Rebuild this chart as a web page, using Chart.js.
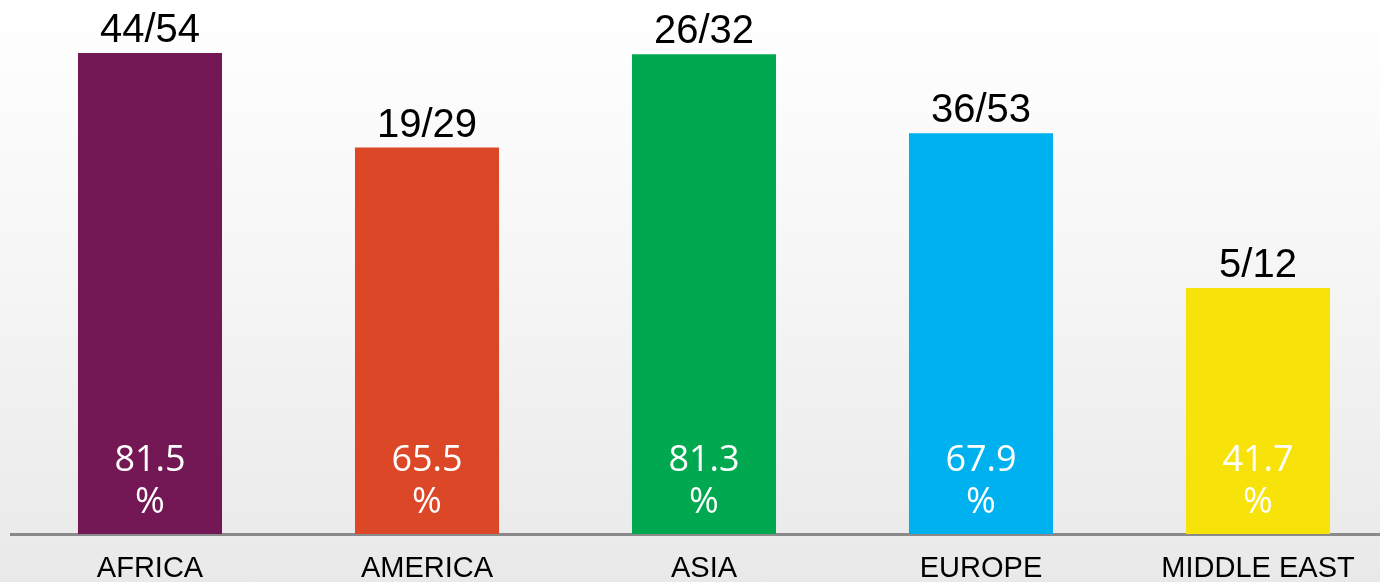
<!DOCTYPE html>
<html>
<head>
<meta charset="utf-8">
<script src="https://cdn.jsdelivr.net/npm/chart.js@4/dist/chart.umd.min.js"></script>
<style>
    html, body {
        margin: 0;
        padding: 0;
        width: 1380px;
        height: 582px;
        overflow: hidden;
        background: linear-gradient(to bottom, #ffffff 0%, #f6f6f6 45%, #e9e9e9 100%);
    }
    canvas { display: block; }
</style>
</head>
<body>
<canvas id="chartRegions" width="1400" height="582"></canvas>
<script>
const regions = ['AFRICA', 'AMERICA', 'ASIA', 'EUROPE', 'MIDDLE EAST'];
const percentages = [81.5, 65.5, 81.3, 67.9, 41.7];
const ratios = ['44/54', '19/29', '26/32', '36/53', '5/12'];
const barColors = ['#731755', '#db4727', '#00a84f', '#00b1ef', '#f7e30a'];

// draws the ratio above each bar and the percentage inside it
const barLabels = {
    id: 'barLabels',
    afterDatasetsDraw(chart) {
        const ctx = chart.ctx;
        const meta = chart.getDatasetMeta(0);
        const zero = chart.scales.y.getPixelForValue(0);
        ctx.save();
        ctx.textAlign = 'center';
        ctx.textBaseline = 'alphabetic';
        meta.data.forEach((bar, i) => {
            ctx.fillStyle = '#000000';
            ctx.font = '40px "Liberation Sans", Arial, sans-serif';
            ctx.fillText(ratios[i], bar.x, bar.y - 11);

            ctx.fillStyle = '#ffffff';
            ctx.font = '36px "Open Sans", sans-serif';
            ctx.fillText(String(percentages[i]), bar.x, zero - 63);
            ctx.fillText('%', bar.x, zero - 21);
        });
        ctx.restore();
    }
};

const data = {
    labels: regions,
    datasets: [
        {
            data: percentages,
            backgroundColor: barColors,
            borderWidth: 0,
            categoryPercentage: 1,
            barPercentage: 0.52
        }
    ]
};

const config = {
    type: 'bar',
    data: data,
    options: {
        responsive: false,
        animation: false,
        layout: {
            padding: { left: 11.5, right: 3.5, top: 0, bottom: 0 }
        },
        plugins: {
            legend: { display: false },
            tooltip: { enabled: false }
        },
        scales: {
            x: {
                grid: { display: false, drawTicks: false },
                border: { display: true, color: '#8a8a8a', width: 3 },
                ticks: {
                    color: '#000000',
                    padding: 18,
                    font: { family: '"Liberation Sans", Arial, sans-serif', size: 29 }
                },
                afterFit(scale) {
                    scale.height = 48;
                }
            },
            y: {
                display: false,
                min: 0,
                max: 90.5
            }
        }
    },
    plugins: [barLabels]
};

let ctx = document.getElementById('chartRegions').getContext('2d');
new Chart(ctx, config);
</script>
</body>
</html>
